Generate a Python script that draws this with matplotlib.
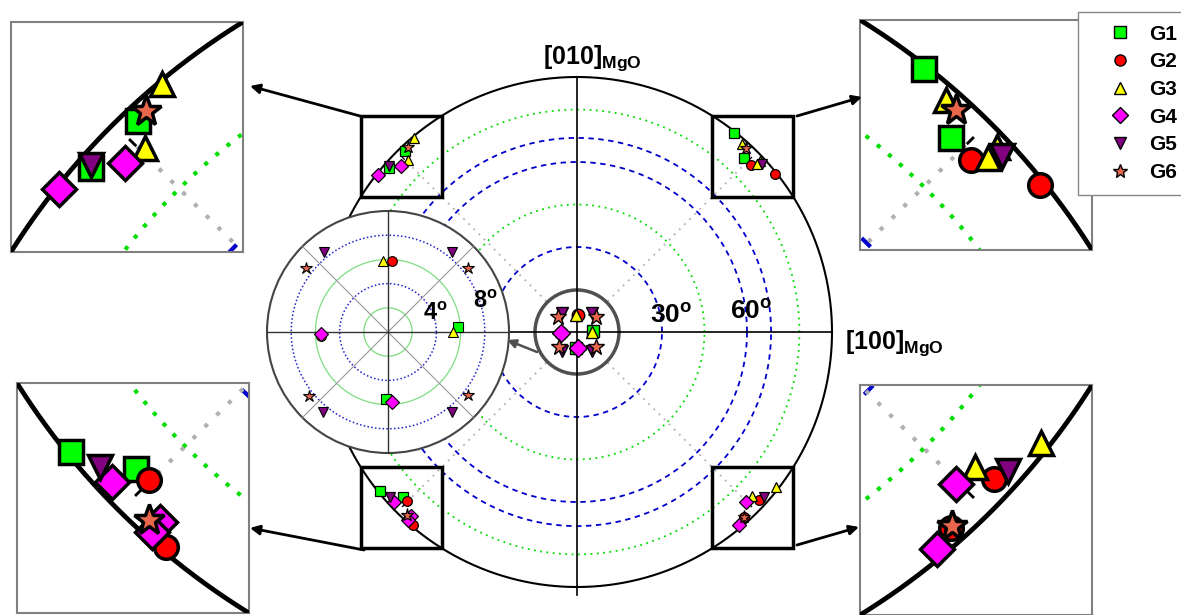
import numpy as np
import matplotlib
matplotlib.use('Agg')
import matplotlib.pyplot as plt
from matplotlib.patches import Circle, Rectangle
from matplotlib.lines import Line2D

W, H = 1181, 615

plt.rcParams['font.family'] = ['Liberation Sans', 'DejaVu Sans']
plt.rcParams['mathtext.fontset'] = 'custom'
plt.rcParams['mathtext.rm'] = 'Liberation Sans:bold'
plt.rcParams['mathtext.bf'] = 'Liberation Sans:bold'
plt.rcParams['mathtext.it'] = 'Liberation Sans:bold'

GROUPS = ['G1', 'G2', 'G3', 'G4', 'G5', 'G6']
MARKERS = ['s', 'o', '^', 'D', 'v', '*']
COLORS = ['#00ff00', '#ff0000', '#ffff00', '#ff00ff', '#800080', '#e8664c']

# poles close to [001]: tilt components in degrees (x, y)
G1_CENTER = [(5.8, 0.4), (-0.2, -5.5)]
G2_CENTER = [(0.3, 5.9), (-5.5, -0.3)]
G3_CENTER = [(-0.4, 5.9), (5.4, 0.0)]
G4_CENTER = [(-5.5, -0.2), (0.3, -5.8)]
G5_CENTER = [(-5.3, 6.6), (5.3, 6.6), (-5.4, -6.6), (5.3, -6.6)]
G6_CENTER = [(-6.8, 5.3), (6.6, 5.3), (-6.5, -5.3), (6.6, -5.2)]

# poles close to the rim: projected position (unit circle = 90 deg)
G1_RIM = [(-0.673, 0.711), (-0.739, 0.645), (0.617, 0.781), (0.654, 0.684),
          (-0.774, -0.625), (-0.684, -0.648)]
G2_RIM = [(0.682, 0.654), (0.777, 0.619), (-0.666, -0.664), (-0.643, -0.757),
          (0.714, -0.660), (0.654, -0.727)]
G3_RIM = [(-0.641, 0.762), (-0.664, 0.674), (0.647, 0.737), (0.717, 0.672),
          (0.705, 0.657), (0.779, -0.609), (0.687, -0.643)]
G4_RIM = [(-0.691, 0.652), (-0.782, 0.616), (-0.717, -0.667), (-0.652, -0.722),
          (-0.662, -0.736), (0.661, -0.667), (0.635, -0.757)]
G5_RIM = [(-0.738, 0.650), (0.725, 0.659), (-0.734, -0.646), (0.733, -0.648)]
G6_RIM = [(-0.662, 0.725), (0.661, 0.723), (-0.667, -0.719), (0.656, -0.725)]

CENTER = [G1_CENTER, G2_CENTER, G3_CENTER, G4_CENTER, G5_CENTER, G6_CENTER]
RIM = [G1_RIM, G2_RIM, G3_RIM, G4_RIM, G5_RIM, G6_RIM]

GREEN_RINGS = [15, 45, 78.5]
BLUE_RINGS = [30, 60, 68.5]
INSET_GREEN = [2, 6]
INSET_BLUE = [4, 8]

fig = plt.figure(figsize=(W / 100, H / 100), dpi=100)


def box(x0, y0, w, h):
    # pixel box (top-left origin) -> figure fraction
    return [x0 / W, 1 - (y0 + h) / H, w / W, h / H]


t = np.linspace(0, 2 * np.pi, 4000)


def ring(ax, r, **kw):
    ax.plot(r * np.cos(t), r * np.sin(t), **kw)


def draw_frame(ax, k):
    for a in GREEN_RINGS:
        ring(ax, a / 90, color='#00dd00', lw=1.3 * k, ls=(0, (1, 2.5)), zorder=1)
    for a in BLUE_RINGS:
        ring(ax, a / 90, color='#0000cc', lw=1.3 * k, ls=(0, (3, 2.5)), zorder=1)
    for ang in (45, 135, 225, 315):
        c, s = np.cos(np.radians(ang)), np.sin(np.radians(ang))
        ax.plot([0, c * 0.955], [0, s * 0.955], color='#b0b0b0', lw=1.3 * k,
                ls=(0, (1, 3)), zorder=1)
        ax.plot([c * 0.958, c * 0.968], [s * 0.958, s * 0.968], color='k',
                lw=0.9 * k, zorder=2)
    ax.plot([-1, 1], [0, 0], color='k', lw=1.2 * k, zorder=5)
    ax.plot([0, 0], [-1.03, 1], color='k', lw=1.2 * k, zorder=5)
    ring(ax, 1.0, color='k', lw=1.5 * k, zorder=5)


def draw_rim(ax, ms, mew):
    for pts, m, c in zip(RIM, MARKERS, COLORS):
        xs, ys = zip(*pts)
        ax.plot(xs, ys, ls='none', marker=m, ms=ms * (1.35 if m == '*' else 1),
                mfc=c, mec='k', mew=mew, zorder=6)


# main pole figure
R_PX, CX, CY = 255, 577, 332
half = 1.1 * R_PX
ax = fig.add_axes(box(CX - half, CY - half, 2 * half, 2 * half))
ax.set_xlim(-1.1, 1.1)
ax.set_ylim(-1.1, 1.1)
ax.axis('off')
draw_frame(ax, 1.0)
ax.add_patch(Circle((0, 0), 42 / R_PX, fc='white', ec='#505050', lw=2.5, zorder=4))
draw_rim(ax, 7, 0.9)
for pts, m, c in zip(CENTER, MARKERS, COLORS):
    xs = [p[0] / 90 for p in pts]
    ys = [p[1] / 90 for p in pts]
    ax.plot(xs, ys, ls='none', marker=m, ms=9 * (1.3 if m == '*' else 1),
            mfc=c, mec='k', mew=1, zorder=6)

D, HW = 0.974, 0.16
ZOOMS = [(135, (11, 22)), (45, (860, 20)), (225, (17, 383)), (315, (860, 385))]
for ang, (px, py) in ZOOMS:
    cx, cy = D * np.cos(np.radians(ang)), D * np.sin(np.radians(ang))
    ax.add_patch(Rectangle((cx - HW, cy - HW), 2 * HW, 2 * HW, fill=False,
                           ec='k', lw=2.5, zorder=7))
    zx = fig.add_axes(box(px, py, 232, 230))
    draw_frame(zx, 2.3)
    draw_rim(zx, 17, 2.5)
    zx.set_xlim(cx - HW, cx + HW)
    zx.set_ylim(cy - HW, cy + HW)
    zx.set_xticks([])
    zx.set_yticks([])
    for sp in zx.spines.values():
        sp.set_color('#808080')
        sp.set_linewidth(1.5)

# magnified view of the centre
sx = fig.add_axes(box(388 - 125, 332 - 125, 250, 250))
sx.set_xlim(-10.33, 10.33)
sx.set_ylim(-10.33, 10.33)
sx.axis('off')
sx.add_patch(Circle((0, 0), 10, fc='white', ec='#444444', lw=1.5, zorder=0))
for a in INSET_GREEN:
    ring(sx, a, color='#7fdc7f', lw=0.9, zorder=1)
for a in INSET_BLUE:
    ring(sx, a, color='#2020cc', lw=1.1, ls=(0, (1, 1.5)), zorder=1)
for ang in (45, 135):
    c, s = 10 * np.cos(np.radians(ang)), 10 * np.sin(np.radians(ang))
    sx.plot([-c, c], [-s, s], color='#999999', lw=0.8, zorder=1)
sx.plot([-10, 10], [0, 0], color='#333333', lw=1.0, zorder=2)
sx.plot([0, 0], [-10, 10], color='#333333', lw=1.0, zorder=2)
for pts, m, c in zip(CENTER, MARKERS, COLORS):
    xs, ys = zip(*pts)
    sx.plot(xs, ys, ls='none', marker=m, ms=7 * (1.3 if m == '*' else 1),
            mfc=c, mec='k', mew=0.8, zorder=4)
sx.text(2.9, 1.0, '4$^\\mathrm{o}$', fontsize=17, fontweight='bold', va='baseline')
sx.text(7.0, 2.0, '8$^\\mathrm{o}$', fontsize=17, fontweight='bold', va='baseline')

# overlay in pixel units for labels and arrows
ov = fig.add_axes([0, 0, 1, 1], zorder=10)
ov.set_xlim(0, W)
ov.set_ylim(H, 0)
ov.axis('off')
ov.text(543, 64, '[010]$_\\mathrm{MgO}$', fontsize=18, fontweight='bold', va='baseline')
ov.text(845, 349, '[100]$_\\mathrm{MgO}$', fontsize=18, fontweight='bold', va='baseline')
ov.text(650, 323, '30$^\\mathrm{o}$', fontsize=19, fontweight='bold', va='baseline')
ov.text(730, 319, '60$^\\mathrm{o}$', fontsize=19, fontweight='bold', va='baseline')

ARROWS = [((360, 116), (250, 86)), ((797, 116), (862, 97)),
          ((364, 550), (250, 528)), ((797, 545), (859, 527))]
for tail, head in ARROWS:
    ov.annotate('', xy=head, xytext=tail,
                arrowprops=dict(arrowstyle='-|>', lw=2, color='k', mutation_scale=14,
                                shrinkA=0, shrinkB=0))
ov.annotate('', xy=(507, 340), xytext=(537, 352),
            arrowprops=dict(arrowstyle='-|>', lw=1.8, color='#505050', mutation_scale=13,
                            shrinkA=0, shrinkB=0))

handles = [Line2D([], [], ls='none', marker=m, ms=8 * (1.3 if m == '*' else 1),
                  mfc=c, mec='k', mew=1) for m, c in zip(MARKERS, COLORS)]
fig.legend(handles, GROUPS, loc='upper left', bbox_to_anchor=(1078 / W, 1 - 12 / H),
           frameon=True, fancybox=False, edgecolor='#888888', framealpha=1,
           prop={'weight': 'bold', 'size': 15}, handlelength=2.8, handletextpad=0.0,
           labelspacing=0.42, borderpad=0.6, borderaxespad=0)

fig.savefig('out.png', dpi=100)
